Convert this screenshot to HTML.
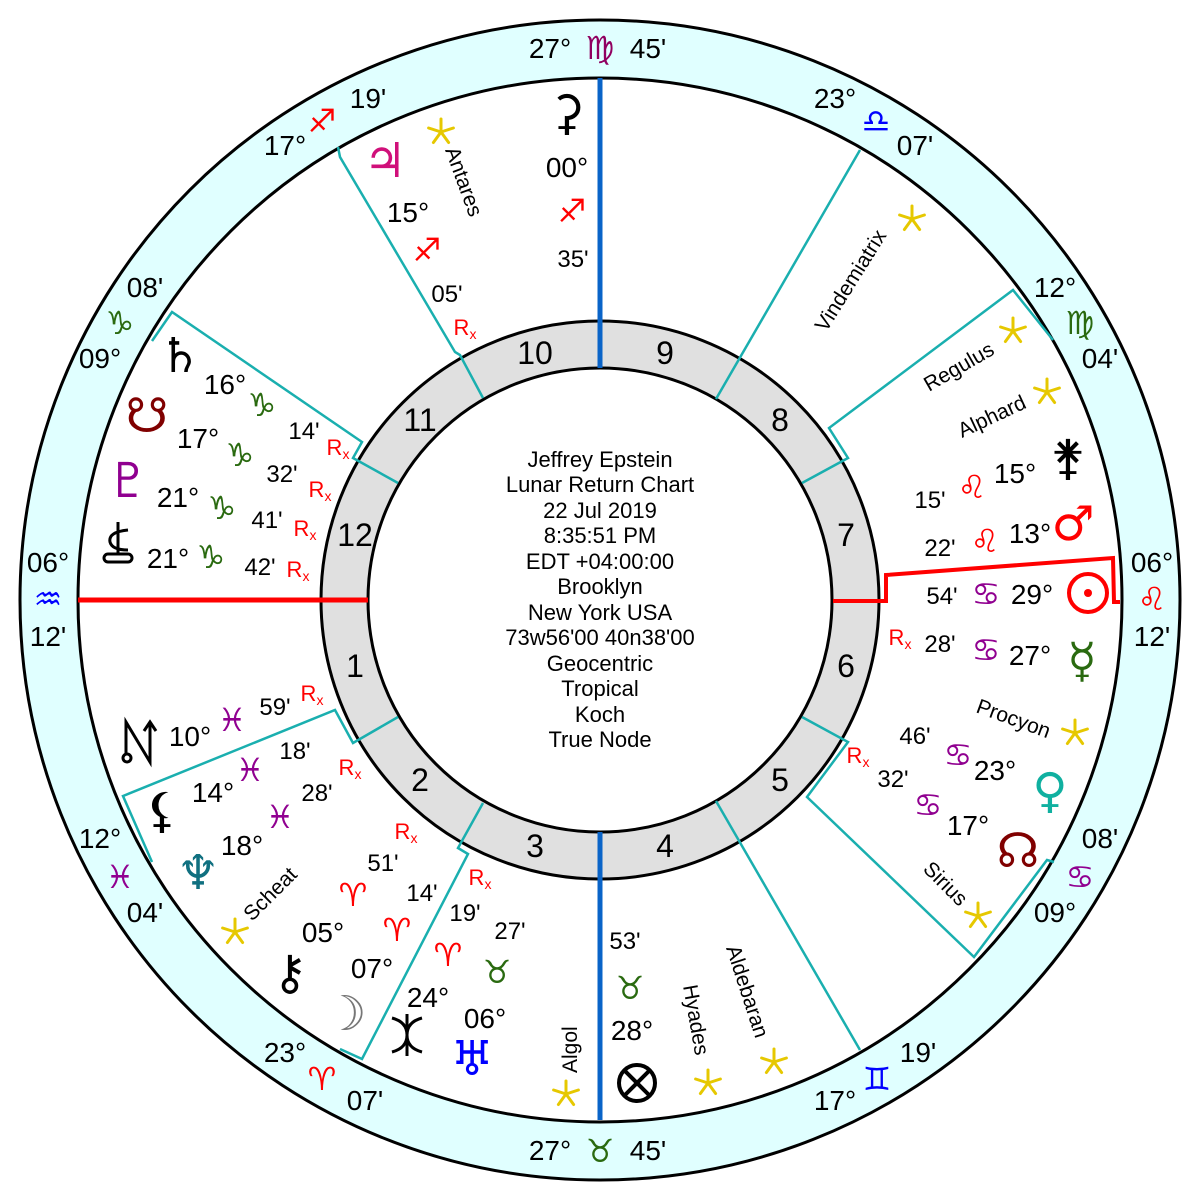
<!DOCTYPE html>
<html><head><meta charset="utf-8"><style>
html,body{margin:0;padding:0;background:#fff}
svg{display:block}
text{font-family:"Liberation Sans","DejaVu Sans",sans-serif}
.t{font-size:28px;fill:#000;text-anchor:middle}
.s{font-size:28px;fill:#000;text-anchor:middle}
.n{font-size:24px;fill:#000;text-anchor:middle}
.m{font-size:32px;fill:#000;text-anchor:middle}
.rx{font-size:22px;fill:#f00;text-anchor:middle}
.sg{font-family:"DejaVu Sans",sans-serif;font-size:32px;text-anchor:middle;font-weight:bold}
.pl{font-family:"DejaVu Sans",sans-serif;font-size:48px;text-anchor:middle;font-weight:bold}
.st{font-size:21px;fill:#000}
.c{font-size:22px;fill:#000;text-anchor:middle}
</style></head><body>
<svg width="1200" height="1200" viewBox="0 0 1200 1200" xmlns="http://www.w3.org/2000/svg">
<defs>
<g id="star" stroke="#e6c800" stroke-width="3" stroke-linecap="round">
<line x1="0" y1="0" x2="0" y2="-13"/><line x1="0" y1="0" x2="12.4" y2="-4"/><line x1="0" y1="0" x2="7.6" y2="10.5"/><line x1="0" y1="0" x2="-7.6" y2="10.5"/><line x1="0" y1="0" x2="-12.4" y2="-4"/>
</g>
</defs>
<rect width="1200" height="1200" fill="#fff"/>
<circle cx="600" cy="600" r="580" fill="#e0ffff" stroke="#000" stroke-width="3"/>
<circle cx="600" cy="600" r="522" fill="#fff" stroke="#000" stroke-width="3"/>
<circle cx="600" cy="600" r="279" fill="#e0e0e0" stroke="#000" stroke-width="3"/>
<circle cx="600" cy="600" r="232" fill="#fff" stroke="#000" stroke-width="3"/>

<g stroke="#1aafaf" stroke-width="2.5" fill="none">
<polyline points="483,398 460,355 455,352 340,157 338,147"/>
<polyline points="398,483 353,458 362,442 172,312 152,341"/>
<polyline points="398,717 353,743 335,710 123,796 152,862"/>
<polyline points="483,803 458,848 468,854 362,1059 340,1049"/>
<polyline points="716,399 860,150"/>
<polyline points="802,483 848,458 829,428 1013,290 1053,340"/>
<polyline points="802,717 848,742 807,797 974,957 1047,860 1054,862"/>
<polyline points="716,801 860,1050"/>
</g>
<line x1="600" y1="78" x2="600" y2="368" stroke="#0a64c8" stroke-width="5"/>
<line x1="600" y1="832" x2="600" y2="1120" stroke="#0a64c8" stroke-width="5"/>
<line x1="78" y1="600" x2="368" y2="600" stroke="#f00" stroke-width="5"/>
<polyline points="833,601 886,601 886,575 1113,558 1114,602 1120,602" stroke="#f00" stroke-width="4" fill="none"/>

<g class="m">
<text x="535" y="364">10</text><text x="665" y="364">9</text>
<text x="420" y="431">11</text><text x="780" y="431">8</text>
<text x="355" y="546">12</text><text x="846" y="546">7</text>
<text x="355" y="677">1</text><text x="846" y="677">6</text>
<text x="420" y="791">2</text><text x="780" y="791">5</text>
<text x="535" y="857">3</text><text x="665" y="857">4</text>
</g>

<g class="t">
<text x="550" y="58">27°</text><text x="648" y="58">45'</text>
<text x="550" y="1160">27°</text><text x="648" y="1160">45'</text>
<text x="48" y="572">06°</text><text x="48" y="646">12'</text>
<text x="1152" y="572">06°</text><text x="1152" y="646">12'</text>
<text x="285" y="155">17°</text><text x="368" y="108">19'</text>
<text x="835" y="108">23°</text><text x="915" y="155">07'</text>
<text x="145" y="297">08'</text><text x="100" y="368">09°</text>
<text x="1055" y="297">12°</text><text x="1100" y="368">04'</text>
<text x="100" y="848">12°</text><text x="145" y="922">04'</text>
<text x="1100" y="848">08'</text><text x="1055" y="922">09°</text>
<text x="285" y="1062">23°</text><text x="365" y="1110">07'</text>
<text x="835" y="1110">17°</text><text x="918" y="1062">19'</text>
</g>
<g class="sg">
<text x="600" y="59" fill="#900060">♍</text>
<text x="600" y="1162" fill="#2a6a10">♉</text>
<text x="48" y="610" fill="#0000ff">♒</text>
<text x="1152" y="610" fill="#f00">♌</text>
<text x="322" y="132" fill="#f00">♐</text>
<text x="876" y="132" fill="#0000ff">♎</text>
<text x="120" y="334" fill="#2a6a10">♑</text>
<text x="1080" y="334" fill="#2a6a10">♍</text>
<text x="120" y="888" fill="#900090">♓</text>
<text x="1080" y="888" fill="#900090">♋</text>
<text x="322" y="1090" fill="#f00">♈</text>
<text x="877" y="1090" fill="#0000ff">♊</text>
</g>

<g class="c">
<text x="600" y="467">Jeffrey Epstein</text>
<text x="600" y="492">Lunar Return Chart</text>
<text x="600" y="518">22 Jul 2019</text>
<text x="600" y="543">8:35:51 PM</text>
<text x="600" y="569">EDT +04:00:00</text>
<text x="600" y="594">Brooklyn</text>
<text x="600" y="620">New York USA</text>
<text x="600" y="645">73w56'00 40n38'00</text>
<text x="600" y="671">Geocentric</text>
<text x="600" y="696">Tropical</text>
<text x="600" y="722">Koch</text>
<text x="600" y="747">True Node</text>
</g>

<text class="pl" x="567" y="129" fill="#000">⚳</text>
<text class="s" x="567" y="177">00°</text><text class="n" x="573" y="267">35'</text>
<text class="sg" x="572" y="222" fill="#f00">♐</text>

<text class="pl" x="385" y="177" fill="#d0107a">♃</text>
<text class="s" x="408" y="222">15°</text>
<text class="sg" x="427" y="261" fill="#f00">♐</text>
<text class="n" x="447" y="302">05'</text>
<text class="rx" x="465" y="335">R<tspan font-size="14" dy="4">x</tspan></text>
<use href="#star" x="441" y="132"/>
<text class="st" transform="translate(445,150) rotate(70)">Antares</text>

<text class="pl" x="180" y="372" fill="#000">♄</text>
<text class="s" x="225" y="394">16°</text><text class="sg" x="262" y="416" fill="#2a6a10">♑</text>
<text class="n" x="304" y="439">14'</text>
<text class="rx" x="338" y="455">R<tspan font-size="14" dy="4">x</tspan></text>

<text class="pl" x="147" y="432" fill="#800000">☋</text>
<text class="s" x="198" y="448">17°</text><text class="sg" x="240" y="466" fill="#2a6a10">♑</text>
<text class="n" x="282" y="482">32'</text>
<text class="rx" x="320" y="497">R<tspan font-size="14" dy="4">x</tspan></text>

<text class="pl" x="128" y="497" fill="#900090">♇</text>
<text class="s" x="178" y="507">21°</text><text class="sg" x="222" y="519" fill="#2a6a10">♑</text>
<text class="n" x="267" y="528">41'</text>
<text class="rx" x="305" y="536">R<tspan font-size="14" dy="4">x</tspan></text>

<g stroke="#000" stroke-width="3" fill="none">
<line x1="118" y1="522" x2="118" y2="555"/>
<path d="M128,530 Q108,532 110,542 Q112,550 128,550"/>
<rect x="104" y="554" width="28" height="8" rx="4"/>
</g>
<text class="s" x="168" y="568">21°</text><text class="sg" x="211" y="568" fill="#2a6a10">♑</text>
<text class="n" x="260" y="575">42'</text>
<text class="rx" x="298" y="577">R<tspan font-size="14" dy="4">x</tspan></text>

<g stroke="#000" stroke-width="3" fill="none">
<polyline points="126,755 126,722 150,762 150,722"/>
<circle cx="127" cy="758" r="4"/>
<polyline points="144,731 150,722 156,731"/>
</g>
<text class="s" x="190" y="746">10°</text><text class="sg" x="232" y="731" fill="#900090">♓</text>
<text class="n" x="275" y="715">59'</text>
<text class="rx" x="312" y="701">R<tspan font-size="14" dy="4">x</tspan></text>

<text class="pl" x="162" y="827" fill="#000">⚸</text>
<text class="s" x="213" y="802">14°</text><text class="sg" x="250" y="781" fill="#900090">♓</text>
<text class="n" x="295" y="759">18'</text>
<text class="rx" x="350" y="775">R<tspan font-size="14" dy="4">x</tspan></text>

<text class="pl" x="198" y="889" fill="#107080">♆</text>
<text class="s" x="242" y="855">18°</text><text class="sg" x="280" y="828" fill="#900090">♓</text>
<text class="n" x="317" y="801">28'</text>
<text class="rx" x="406" y="839">R<tspan font-size="14" dy="4">x</tspan></text>

<use href="#star" x="235" y="932"/>
<text class="st" transform="translate(252,922) rotate(-45)">Scheat</text>

<text class="pl" x="290" y="989" fill="#000">⚷</text>
<text class="s" x="323" y="942">05°</text><text class="sg" x="353" y="906" fill="#f00">♈</text>
<text class="n" x="383" y="871">51'</text>

<text class="pl" x="345" y="1030" fill="#777">☽</text>
<text class="s" x="372" y="978">07°</text><text class="sg" x="397" y="941" fill="#f00">♈</text>
<text class="n" x="422" y="901">14'</text>
<text class="rx" x="480" y="885">R<tspan font-size="14" dy="4">x</tspan></text>

<g stroke="#000" stroke-width="3" fill="none">
<line x1="407" y1="1014" x2="407" y2="1056"/>
<path d="M392,1018 Q407,1022 407,1035 Q407,1048 392,1052"/>
<path d="M422,1018 Q407,1022 407,1035 Q407,1048 422,1052"/>
</g>
<text class="s" x="428" y="1007">24°</text><text class="sg" x="448" y="966" fill="#f00">♈</text>
<text class="n" x="465" y="921">19'</text>

<text class="pl" x="472" y="1075" fill="#0000ff">♅</text>
<text class="s" x="485" y="1028">06°</text><text class="sg" x="497" y="983" fill="#2a6a10">♉</text>
<text class="n" x="510" y="939">27'</text>

<use href="#star" x="566" y="1094"/>
<text class="st" transform="translate(577,1073) rotate(-90)">Algol</text>

<g stroke="#000" stroke-width="4" fill="none">
<circle cx="637" cy="1083" r="18"/><line x1="624" y1="1070" x2="650" y2="1096"/><line x1="650" y1="1070" x2="624" y2="1096"/>
</g>
<text class="s" x="632" y="1040">28°</text><text class="sg" x="630" y="999" fill="#2a6a10">♉</text>
<text class="n" x="625" y="949">53'</text>
<use href="#star" x="708" y="1083"/>
<text class="st" transform="translate(683,986) rotate(80)">Hyades</text>
<use href="#star" x="774" y="1062"/>
<text class="st" transform="translate(726,948) rotate(72)">Aldebaran</text>

<use href="#star" x="912" y="219"/>
<text class="st" transform="translate(826,333) rotate(-58)">Vindemiatrix</text>
<use href="#star" x="1013" y="331"/>
<text class="st" transform="translate(929,392) rotate(-30)">Regulus</text>
<use href="#star" x="1047" y="392"/>
<text class="st" transform="translate(962,438) rotate(-25)">Alphard</text>

<text class="pl" x="1068" y="474" fill="#000">⚵</text>
<text class="s" x="1015" y="483">15°</text><text class="sg" x="972" y="498" fill="#f00">♌</text>
<text class="n" x="930" y="508">15'</text>

<text class="pl" x="1073" y="540" fill="#f00">♂</text>
<text class="s" x="1030" y="543">13°</text><text class="sg" x="985" y="552" fill="#f00">♌</text>
<text class="n" x="940" y="556">22'</text>

<g stroke="#f00" stroke-width="4" fill="none"><circle cx="1088" cy="593" r="19"/></g>
<circle cx="1088" cy="593" r="4" fill="#f00"/>
<text class="s" x="1032" y="604">29°</text><text class="sg" x="986" y="605" fill="#900090">♋</text>
<text class="n" x="942" y="604">54'</text>

<text class="pl" x="1082" y="677" fill="#2a6a10">☿</text>
<text class="s" x="1030" y="665">27°</text><text class="sg" x="986" y="661" fill="#900090">♋</text>
<text class="n" x="940" y="652">28'</text>
<text class="rx" x="900" y="645">R<tspan font-size="14" dy="4">x</tspan></text>

<use href="#star" x="1075" y="733"/>
<text class="st" transform="translate(975,712) rotate(20)">Procyon</text>

<text class="pl" x="1050" y="807" fill="#10b0a0">♀</text>
<text class="s" x="995" y="780">23°</text><text class="sg" x="958" y="766" fill="#900090">♋</text>
<text class="n" x="915" y="744">46'</text>
<text class="rx" x="858" y="763">R<tspan font-size="14" dy="4">x</tspan></text>

<text class="pl" x="1018" y="867" fill="#800000">☊</text>
<text class="s" x="968" y="835">17°</text><text class="sg" x="928" y="816" fill="#900090">♋</text>
<text class="n" x="893" y="787">32'</text>

<use href="#star" x="978" y="916"/>
<text class="st" transform="translate(922,870) rotate(45)">Sirius</text>
</svg>
</body></html>
